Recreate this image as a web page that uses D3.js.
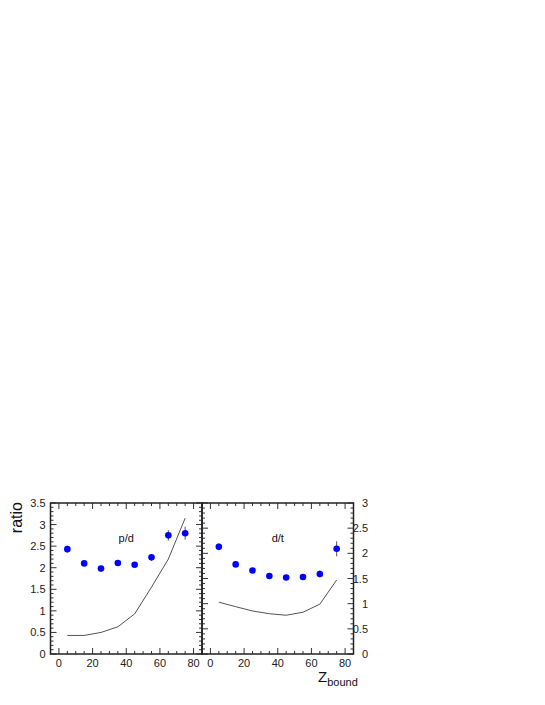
<!DOCTYPE html>
<html><head><meta charset="utf-8">
<script src="https://cdn.jsdelivr.net/npm/d3@7"></script>
<style>body{margin:0;background:#fff}svg{display:block}</style>
</head><body>
<script>
const zBins = [5, 15, 25, 35, 45, 55, 65, 75];
const pdRatio = [2.43, 2.10, 1.98, 2.11, 2.07, 2.24, 2.75, 2.80];
const pdErr = [0.08, 0.05, 0.05, 0.05, 0.05, 0.08, 0.12, 0.15];
const pdModel = [0.43, 0.43, 0.50, 0.63, 0.93, 1.55, 2.20, 3.15];
const dtRatio = [2.13, 1.78, 1.66, 1.55, 1.52, 1.53, 1.59, 2.09];
const dtErr = [0.07, 0.04, 0.04, 0.04, 0.04, 0.05, 0.07, 0.15];
const dtModel = [1.03, 0.94, 0.855, 0.80, 0.77, 0.83, 0.99, 1.47];
const xTicks = [0, 20, 40, 60, 80];
const pdYTicks = [0, 0.5, 1, 1.5, 2, 2.5, 3, 3.5];
const dtYTicks = [0, 0.5, 1, 1.5, 2, 2.5, 3];

(function () {
const W = 545, H = 705;
const svg = d3.select("body").append("svg").attr("width", W).attr("height", H);
const yTop = 503, yBot = 654;
const font = "Liberation Sans, Arial, Helvetica, sans-serif";

function panel(x0, x1, yMax, yTicks, vals, errs, model, label, axisSide, labelX) {
  const x = d3.scaleLinear().domain([-5, 85]).range([x0, x1]);
  const y = d3.scaleLinear().domain([0, yMax]).range([yBot, yTop]);
  const g = svg.append("g");
  const xMinor = d3.range(-5, 86, 5);
  xMinor.forEach(v => {
    const major = v % 20 === 0;
    const len = major ? 6 : 3;
    g.append("line").attr("x1", x(v)).attr("x2", x(v)).attr("y1", yBot).attr("y2", yBot - len)
      .attr("stroke", "#333").attr("stroke-width", 1);
    g.append("line").attr("x1", x(v)).attr("x2", x(v)).attr("y1", yTop).attr("y2", yTop + len)
      .attr("stroke", "#333").attr("stroke-width", 1);
  });
  const yMinor = d3.range(0, yMax + 0.001, 0.1);
  yMinor.forEach(v => {
    const r = Math.round(v * 10);
    const major = r % 5 === 0;
    const len = major ? 6 : 3;
    g.append("line").attr("x1", x0).attr("x2", x0 + len).attr("y1", y(v)).attr("y2", y(v))
      .attr("stroke", "#333").attr("stroke-width", 1);
    g.append("line").attr("x1", x1).attr("x2", x1 - len).attr("y1", y(v)).attr("y2", y(v))
      .attr("stroke", "#333").attr("stroke-width", 1);
  });
  g.append("rect").attr("x", x0).attr("y", yTop).attr("width", x1 - x0).attr("height", yBot - yTop)
    .attr("fill", "none").attr("stroke", "#222").attr("stroke-width", 1.5);
  xTicks.forEach(v => {
    g.append("text").attr("x", x(v)).attr("y", 667).attr("text-anchor", "middle")
      .attr("font-family", font).attr("font-size", 11).attr("fill", "#222").text(v);
  });
  yTicks.forEach(v => {
    g.append("text").attr("y", y(v) + 4).attr("x", labelX).attr("text-anchor", "end")
      .attr("font-family", font).attr("font-size", 11).attr("fill", "#222").text(v);
  });
  const line = d3.line().x((d, i) => x(zBins[i])).y(d => y(d));
  g.append("path").datum(model).attr("d", line).attr("fill", "none")
    .attr("stroke", "#555").attr("stroke-width", 1);
  g.selectAll(".err").data(vals).enter().append("line")
    .attr("x1", (d, i) => x(zBins[i])).attr("x2", (d, i) => x(zBins[i]))
    .attr("y1", (d, i) => y(d - errs[i])).attr("y2", (d, i) => y(d + errs[i]))
    .attr("stroke", "#555").attr("stroke-width", 1);
  g.selectAll(".pt").data(vals).enter().append("circle")
    .attr("cx", (d, i) => x(zBins[i])).attr("cy", d => y(d)).attr("r", 3.3)
    .attr("fill", "#0000ff");
  g.append("text").attr("x", (x0 + x1) / 2).attr("y", 542).attr("text-anchor", "middle")
    .attr("font-family", font).attr("font-size", 11).attr("fill", "#111").text(label);
}

panel(50.5, 202, 3.5, pdYTicks, pdRatio, pdErr, pdModel, "p/d", "left", 45.5);
panel(202, 353.5, 3, dtYTicks, dtRatio, dtErr, dtModel, "d/t", "right", 368);

svg.append("text").attr("transform", "translate(22,502) rotate(-90)").attr("text-anchor", "end")
  .attr("font-family", font).attr("font-size", 16).attr("fill", "#111").text("ratio");
const zt = svg.append("text").attr("x", 318).attr("y", 682)
  .attr("font-family", font).attr("font-size", 15).attr("fill", "#111");
zt.append("tspan").text("Z");
zt.append("tspan").attr("dy", 4).attr("font-size", 11).text("bound");
})();
</script>
</body></html>
